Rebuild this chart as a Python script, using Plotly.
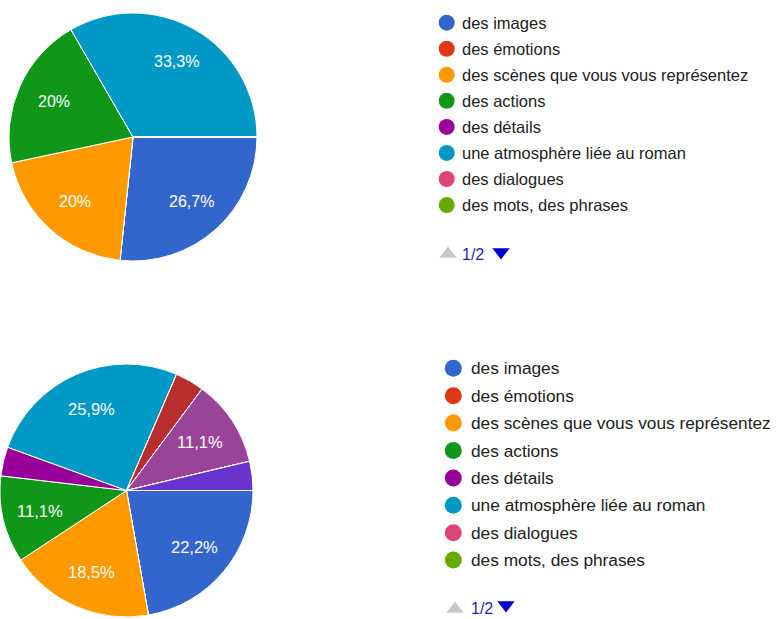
import math
import plotly.graph_objects as go

# ---------------- data ----------------
legend_labels = [
    "des images",
    "des émotions",
    "des scènes que vous vous représentez",
    "des actions",
    "des détails",
    "une atmosphère liée au roman",
    "des dialogues",
    "des mots, des phrases",
]
extra_labels = ["autre réponse 1", "autre réponse 2", "autre réponse 3",
                "autre réponse 4", "autre réponse 5", "autre réponse 6"]

counts_top = [4, 0, 3, 3, 0, 5, 0, 0]
counts_bottom = [6, 0, 5, 3, 1, 7, 0, 0, 1, 0, 3, 0, 0, 1]

palette = ["#3366cc", "#dc3912", "#ff9900", "#109618", "#990099", "#0099c6",
           "#dd4477", "#66aa00", "#b82e2e", "#316395", "#994499", "#22aa99",
           "#aaaa11", "#6633cc"]

pager_text = "1/2"

W, H = 776, 619
FONT = "Arial, Liberation Sans, sans-serif"
PAD = 3  # annotation inner padding compensation


def px_dom_x(a, b):
    return [max(0, a / W), min(1, b / W)]


def px_dom_y(top, bottom):
    return [max(0, 1 - bottom / H), min(1, 1 - top / H)]


def fmt_pct(p):
    s = f"{p * 100:.1f}"
    if s.endswith(".0"):
        s = s[:-2]
    return s.replace(".", ",") + "%"


fig = go.Figure()
annotations = []

pies = [
    dict(vals=counts_top, labels=legend_labels, dx=(9, 257), dy=(13, 261), fs=16),
    dict(vals=counts_bottom, labels=legend_labels + extra_labels, dx=(0, 253), dy=(364, 617), fs=16.5),
]
for p in pies:
    n = len(p["vals"])
    fig.add_trace(go.Pie(
        labels=p["labels"], values=p["vals"],
        sort=False, direction="clockwise", rotation=90,
        marker=dict(colors=palette[:n], line=dict(color="white", width=1)),
        textinfo="none",
        domain=dict(x=px_dom_x(*p["dx"]), y=px_dom_y(*p["dy"])),
        showlegend=False, hoverinfo="label+value+percent",
    ))
    # slice labels (Google-style, at ~70% of radius on the mid-angle)
    cx = (p["dx"][0] + p["dx"][1]) / 2
    cy = (p["dy"][0] + p["dy"][1]) / 2
    r = min(p["dx"][1] - p["dx"][0], p["dy"][1] - p["dy"][0]) / 2
    tot = sum(p["vals"])
    cum = 0
    for v in p["vals"]:
        if v / tot >= 0.05:
            a = (cum + v / 2) / tot * 2 * math.pi
            annotations.append(dict(
                x=cx + 0.7 * r * math.cos(a), y=cy + 0.7 * r * math.sin(a),
                xref="x", yref="y", text=fmt_pct(v / tot), showarrow=False,
                xanchor="center", yanchor="middle",
                font=dict(family=FONT, size=p["fs"], color="white"),
            ))
        cum += v

# legend blocks (pixel-coordinate helper axis)
legends = [
    dict(cx=446.7, tx=462.5, y0=22.7, dy=26.05, size=16, fs=16.5,
         up=(448, 254), txt=(463, 254), pfs=16, down=(501, 252), tri=15),
    dict(cx=453.3, tx=471.5, y0=368.3, dy=27.4, size=17, fs=17.3,
         up=(455, 609), txt=(471.5, 608), pfs=16, down=(506, 605), tri=15),
]
for lg in legends:
    ys = [lg["y0"] + i * lg["dy"] for i in range(len(legend_labels))]
    fig.add_trace(go.Scatter(
        x=[lg["cx"]] * len(legend_labels), y=ys, mode="markers",
        marker=dict(size=lg["size"], color=palette[:len(legend_labels)], line=dict(width=0)),
        xaxis="x", yaxis="y", showlegend=False, hoverinfo="skip",
    ))
    for lab, y in zip(legend_labels, ys):
        annotations.append(dict(
            x=lg["tx"] - PAD, y=y, xref="x", yref="y", text=lab, showarrow=False,
            xanchor="left", yanchor="middle",
            font=dict(family=FONT, size=lg["fs"], color="#222222"),
        ))
    # pager
    fig.add_trace(go.Scatter(
        x=[lg["up"][0], lg["down"][0]], y=[lg["up"][1], lg["down"][1]], mode="markers",
        marker=dict(size=lg["tri"], symbol=["triangle-up", "triangle-down"],
                    color=["#c8c8c8", "#0000cc"], line=dict(width=0)),
        xaxis="x", yaxis="y", showlegend=False, hoverinfo="skip",
    ))
    annotations.append(dict(
        x=lg["txt"][0] - PAD, y=lg["txt"][1], xref="x", yref="y", showarrow=False,
        xanchor="left", yanchor="middle", text=pager_text,
        font=dict(family=FONT, size=lg["pfs"], color="#1f1fb0"),
    ))

fig.update_layout(
    width=W, height=H,
    margin=dict(l=0, r=0, t=0, b=0),
    paper_bgcolor="white", plot_bgcolor="rgba(0,0,0,0)",
    font=dict(family=FONT),
    xaxis=dict(range=[0, W], domain=[0, 1], visible=False, fixedrange=True),
    yaxis=dict(range=[H, 0], domain=[0, 1], visible=False, fixedrange=True),
    annotations=annotations,
)

fig.write_html("out.html", config={"displayModeBar": False},
               post_script="document.body.style.margin='0px';")
